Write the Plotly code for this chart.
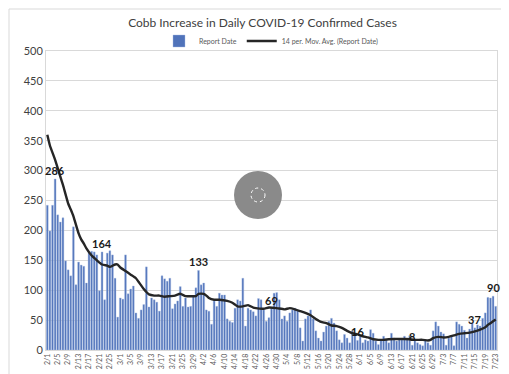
import pandas as pd
import plotly.graph_objects as go

# ---------------- data ----------------
dates = pd.date_range("2021-02-01", "2021-07-23", freq="D")

report_date = [
    242, 199, 242, 286, 226, 214, 221, 149, 134, 124, 206, 109, 147, 142, 140, 112,
    162, 165, 164, 159, 99, 164, 84, 162, 166, 159, 120, 55, 87, 85, 159, 94, 102, 107, 62,
    53, 67, 76, 139, 72, 87, 84, 80, 65, 124, 119, 115, 120, 69, 77, 82, 106, 73, 87, 72,
    73, 90, 104, 133, 109, 112, 67, 65, 43, 82, 73, 95, 92, 92, 52, 48, 46,
    70, 84, 82, 120, 40, 70, 67, 64, 57, 86, 84, 67, 48, 54, 69, 95, 96, 84, 52, 57, 48,
    62, 67, 70, 67, 37, 15, 52, 57, 67, 52, 32, 20, 15, 30,
    40, 48, 53, 45, 32, 17, 12, 26, 20, 12, 32, 26, 16, 23, 12, 17, 15, 34, 28, 15, 9,
    17, 23, 17, 12, 28, 20, 15, 18, 17, 23, 20, 24, 8,
    17, 12, 9, 7, 17, 12, 8, 32, 47, 40, 30, 27, 8, 20, 24, 7, 47, 43, 40, 33, 20,
    35, 45, 37, 42, 40, 53, 62, 88, 87, 90, 73,
]

ma_dates = [
    "2/1", "2/2", "2/4", "2/6", "2/7", "2/9", "2/10", "2/11", "2/13", "2/14", "2/15", "2/16",
    "2/18", "2/19", "2/20", "2/22", "2/24", "2/25", "2/27", "2/28", "3/1", "3/3", "3/5",
    "3/7", "3/8", "3/9", "3/10", "3/11", "3/12", "3/14", "3/16", "3/18", "3/20", "3/22",
    "3/24", "3/26", "3/28", "3/30", "3/31", "4/2", "4/3", "4/4", "4/6", "4/8", "4/11",
    "4/13", "4/15", "4/17", "4/19", "4/21", "4/22", "4/25", "4/27", "4/30", "5/3", "5/5",
    "5/7", "5/9", "5/11", "5/13", "5/15", "5/17", "5/19", "5/21", "5/23", "5/25", "5/27",
    "5/29", "5/31", "6/2", "6/4", "6/6", "6/8", "6/10", "6/12", "6/14", "6/16", "6/18",
    "6/20", "6/22", "6/25", "6/27", "6/28", "6/29", "7/1", "7/3", "7/5", "7/7", "7/9",
    "7/11", "7/13", "7/15", "7/17", "7/19", "7/20", "7/22", "7/23",
]
ma_values = [
    360, 342, 318, 290, 276, 245, 235, 224, 195, 185, 178, 170,
    158, 154, 150, 143, 141, 139, 143, 143, 138, 132, 126,
    120, 114, 108, 102, 97, 93, 91, 91, 89, 90, 91,
    94, 90, 90, 90, 94, 94, 91, 87, 84, 84, 82,
    79, 73, 73, 75, 71, 70, 69, 71, 70, 68, 70,
    68, 65, 62, 58, 52, 47, 45, 41, 40, 37, 32,
    28, 26, 23, 21, 18, 17, 17, 18, 18.5, 18.5, 18.5,
    18, 17, 17, 16, 17, 20, 22, 21, 22, 24.5, 27,
    28, 29, 31, 34, 38, 42, 48, 51,
]

label_dates = ["2/4", "2/22", "3/31", "4/28", "5/31", "6/21", "7/15", "7/22"]
label_values = [286, 164, 133, 69, 16, 8, 37, 90]

y_ticks = [0, 50, 100, 150, 200, 250, 300, 350, 400, 450, 500]


def to_date(md):
    m, d = md.split("/")
    return pd.Timestamp(year=2021, month=int(m), day=int(d))


ma_x = [to_date(s) for s in ma_dates]
label_x = [to_date(s) for s in label_dates]

# ---------------- figure ----------------
fig = go.Figure()

fig.add_trace(go.Bar(
    x=dates, y=report_date, name="Report Date",
    marker=dict(color="#5073ba", line=dict(color="#a9bde3", width=0.4)),
))
fig.add_trace(go.Scatter(
    x=ma_x, y=ma_values, mode="lines", name="14 per. Mov. Avg. (Report Date)",
    line=dict(color="#262626", width=2.4, shape="spline", smoothing=0.4),
))

for lx, lv in zip(label_x, label_values):
    fig.add_annotation(
        x=lx, y=lv, text=f"<b>{lv}</b>", showarrow=False,
        yanchor="bottom", yshift=0,
        font=dict(family="Lato, Open Sans, sans-serif", size=11, color="#1a1a1a"),
    )

W, H = 509, 374
L, R, T, B = 38, 20, 43, 32
pw, ph = W - L - R, H - T - B


def px_x(p):
    return (p - L) / pw


def px_y(p):
    return (H - B - p) / ph


# loading spinner overlay seen in reference
cx, cy, r = 250, 187, 24
fig.add_shape(type="circle", xref="paper", yref="paper",
              x0=px_x(cx - r), x1=px_x(cx + r), y0=px_y(cy + r), y1=px_y(cy - r),
              fillcolor="#8a8a8a", line=dict(width=0), layer="above")
r2 = 7
fig.add_shape(type="circle", xref="paper", yref="paper",
              x0=px_x(cx - r2), x1=px_x(cx + r2), y0=px_y(cy + r2), y1=px_y(cy - r2),
              fillcolor="rgba(0,0,0,0)", line=dict(width=1, color="white", dash="dot"),
              layer="above")
# chart border
fig.add_shape(type="rect", xref="paper", yref="paper",
              x0=px_x(1), x1=px_x(505), y0=px_y(372), y1=px_y(1),
              fillcolor="rgba(0,0,0,0)", line=dict(width=1, color="#d9d9d9"), layer="below")

fig.update_layout(
    width=W, height=H,
    margin=dict(l=L, r=R, t=T, b=B),
    paper_bgcolor="white", plot_bgcolor="white",
    bargap=0.3,
    title=dict(text="Cobb Increase in Daily COVID-19 Confirmed Cases",
               x=0.5, xanchor="center", y=1 - 15 / H, yanchor="middle",
               font=dict(family="Lato, Open Sans, sans-serif", size=12, color="#404040")),
    legend=dict(orientation="h", x=0.5, xanchor="center", y=1 + 10 / ph, yanchor="middle",
                font=dict(family="Lato, Open Sans, sans-serif", size=7, color="#595959"),
                bgcolor="rgba(0,0,0,0)", itemwidth=30, tracegroupgap=0),
    showlegend=True,
    font=dict(family="Lato, Open Sans, sans-serif"),
)

fig.update_xaxes(
    type="date",
    range=["2021-01-31 12:00", "2021-07-23 12:00"],
    tick0="2021-02-01", dtick=4 * 86400000,
    tickformat="%-m/%-d", tickangle=-90,
    tickfont=dict(size=7, color="#595959"),
    showgrid=False, showline=True, linecolor="#d9d9d9", mirror=True,
    ticks="", zeroline=False,
)
fig.update_yaxes(
    range=[0, 500], tickvals=y_ticks,
    tickfont=dict(size=11, color="#404040"),
    showgrid=True, gridcolor="#d9d9d9", gridwidth=1,
    showline=True, linecolor="#d9d9d9", mirror=True,
    zeroline=False, ticks="",
)

fig.write_html("out.html")
